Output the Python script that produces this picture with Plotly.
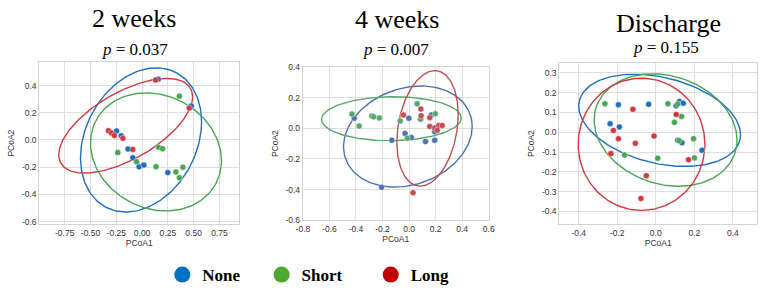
import numpy as np
import plotly.graph_objects as go

W, H = 767, 293

groups = ["None", "Short", "Long"]
legend_colors = ["#0070c0", "#4ea72e", "#c00000"]
panel_colors = [
    ["#1f6fbf", "#4aa552", "#d03a3f"],
    ["#4c72b0", "#55a868", "#c44e52"],
    ["#1f6fbf", "#4aa552", "#d03a3f"],
]
titles = ["2 weeks", "4 weeks", "Discharge"]
p_values = ["0.037", "0.007", "0.155"]

# ---- 2 weeks ----
w2_none_x = [0.157, 0.478, -0.247, -0.202, -0.136, -0.09, -0.029, 0.017, 0.25]
w2_none_y = [0.447, 0.25, 0.066, 0.03, -0.067, -0.131, -0.198, -0.185, -0.24]
w2_short_x = [0.362, -0.235, -0.053, 0.16, 0.199, 0.136, 0.328, 0.396, 0.362]
w2_short_y = [0.322, -0.093, -0.16, -0.054, -0.064, -0.197, -0.236, -0.2, -0.278]
w2_long_x = [0.131, 0.458, -0.326, -0.297, -0.268, -0.186, -0.09]
w2_long_y = [0.44, 0.234, 0.068, 0.051, 0.033, 0.012, -0.07]

# ---- 4 weeks ----
w4_none_x = [-0.413, -0.130, -0.002, 0.168, 0.193, -0.030, 0.017, 0.124, 0.193, -0.207]
w4_none_y = [0.065, -0.078, 0.065, 0.086, -0.023, -0.034, -0.061, -0.086, -0.078, -0.384]
w4_short_x = [-0.43, -0.376, -0.281, -0.267, -0.224, -0.067, 0.061, 0.087, 0.198, -0.013]
w4_short_y = [0.092, 0.014, 0.079, 0.075, 0.067, 0.048, 0.159, 0.058, 0.094, -0.065]
w4_long_x = [-0.042, 0.089, 0.091, 0.156, 0.156, 0.193, 0.224, 0.25, 0.213, 0.030]
w4_long_y = [0.086, 0.125, 0.081, 0.069, 0.012, 0.002, 0.018, 0.018, -0.013, -0.42]

# ---- Discharge ----
dc_none_x = [-0.194, -0.037, 0.106, 0.123, 0.143, -0.237, -0.189, 0.114, 0.136, 0.240]
dc_none_y = [0.139, 0.141, 0.134, 0.155, 0.147, 0.043, 0.027, -0.04, -0.053, -0.091]
dc_short_x = [-0.264, 0.063, 0.114, 0.134, 0.097, 0.196, 0.121, -0.162, 0.010, 0.201]
dc_short_y = [0.144, 0.144, 0.142, 0.08, 0.05, -0.033, -0.043, -0.115, -0.131, -0.130]
dc_long_x = [-0.119, 0.106, -0.22, -0.194, -0.106, -0.009, -0.233, 0.170, -0.049, -0.077]
dc_long_y = [0.116, 0.09, 0.009, -0.033, -0.056, -0.019, -0.108, -0.139, -0.22, -0.335]

# Ellipses: centre x, centre y, half-width, half-height, tilt (correlation)
w2_ell = [(-0.01, 0.0, 0.587, 0.530, 0.25), (0.135, -0.088, 0.635, 0.434, -0.15), (-0.159, 0.104, 0.649, 0.348, 0.614)]
w4_ell = [(-0.009, -0.054, 0.485, 0.329, 0.2), (-0.133, 0.062, 0.526, 0.143, 0.03), (0.139, -0.001, 0.231, 0.376, 0.24)]
dc_ell = [(0.020, 0.060, 0.420, 0.233, -0.31), (0.051, 0.011, 0.371, 0.284, -0.18), (-0.074, -0.061, 0.329, 0.334, 0.0)]

# ticks
w2_xticks = [-0.75, -0.5, -0.25, 0.0, 0.25, 0.5, 0.75]
w2_xlabels = ["-0.75", "-0.50", "-0.25", "0.00", "0.25", "0.50", "0.75"]
w2_yticks = [-0.6, -0.4, -0.2, 0.0, 0.2, 0.4]
w2_ylabels = ["-0.6", "-0.4", "-0.2", "0.0", "0.2", "0.4"]
w4_xticks = [-0.8, -0.6, -0.4, -0.2, 0.0, 0.2, 0.4, 0.6]
w4_xlabels = ["-0.8", "-0.6", "-0.4", "-0.2", "0.0", "0.2", "0.4", "0.6"]
w4_yticks = [-0.6, -0.4, -0.2, 0.0, 0.2, 0.4]
w4_ylabels = ["-0.6", "-0.4", "-0.2", "0.0", "0.2", "0.4"]
dc_xticks = [-0.4, -0.2, 0.0, 0.2, 0.4]
dc_xlabels = ["-0.4", "-0.2", "0.0", "0.2", "0.4"]
dc_yticks = [-0.4, -0.3, -0.2, -0.1, 0.0, 0.1, 0.2, 0.3]
dc_ylabels = ["-0.4", "-0.3", "-0.2", "-0.1", "0.0", "0.1", "0.2", "0.3"]

panels = [
    dict(pts=[(w2_none_x, w2_none_y), (w2_short_x, w2_short_y), (w2_long_x, w2_long_y)], ell=w2_ell,
         xr=[-0.995, 0.94], yr=[-0.62, 0.573], xt=(w2_xticks, w2_xlabels), yt=(w2_yticks, w2_ylabels),
         px=(33, 236), py=(59, 227)),
    dict(pts=[(w4_none_x, w4_none_y), (w4_short_x, w4_short_y), (w4_long_x, w4_long_y)], ell=w4_ell,
         xr=[-0.8, 0.6], yr=[-0.6, 0.4], xt=(w4_xticks, w4_xlabels), yt=(w4_yticks, w4_ylabels),
         px=(301, 490), py=(64, 223)),
    dict(pts=[(dc_none_x, dc_none_y), (dc_short_x, dc_short_y), (dc_long_x, dc_long_y)], ell=dc_ell,
         xr=[-0.50, 0.526], yr=[-0.465, 0.35], xt=(dc_xticks, dc_xlabels), yt=(dc_yticks, dc_ylabels),
         px=(562, 763), py=(60, 227)),
]

SERIF = "Liberation Serif"
SANS = "Liberation Sans"

fig = go.Figure()
t = np.linspace(0, 2 * np.pi, 200)

for i, pn in enumerate(panels):
    xa = "x" if i == 0 else f"x{i+1}"
    ya = "y" if i == 0 else f"y{i+1}"
    for g in range(3):
        cx, cy, hw, hh, r = pn["ell"][g]
        ex = cx + hw * np.cos(t)
        ey = cy + hh * (r * np.cos(t) + np.sqrt(1 - r * r) * np.sin(t))
        fig.add_trace(go.Scatter(x=ex, y=ey, mode="lines", xaxis=xa, yaxis=ya,
                                 line=dict(color=panel_colors[i][g], width=1.4),
                                 showlegend=False, hoverinfo="skip"))
    for g in range(3):
        xs, ys = pn["pts"][g]
        fig.add_trace(go.Scatter(x=xs, y=ys, mode="markers", xaxis=xa, yaxis=ya,
                                 marker=dict(color=panel_colors[i][g], size=6,
                                             line=dict(color="white", width=0.4)),
                                 showlegend=False, name=groups[g]))

    axis_common = dict(showgrid=True, gridcolor="#dedede", gridwidth=1.2, zeroline=False,
                       showline=True, linecolor="#d4d4d4", linewidth=1.3, mirror=True,
                       ticks="", tickfont=dict(family=SANS, size=8.5, color="#333333"))
    xdom = [pn["px"][0] / W, pn["px"][1] / W]
    ydom = [1 - pn["py"][1] / H, 1 - pn["py"][0] / H]
    key = "" if i == 0 else str(i + 1)
    fig.update_layout(**{
        f"xaxis{key}": dict(domain=xdom, range=pn["xr"], anchor=ya, tickvals=pn["xt"][0], ticktext=pn["xt"][1],
                            title=dict(text="PCoA1", font=dict(family=SANS, size=8.5, color="#333333"), standoff=3),
                            **axis_common),
        f"yaxis{key}": dict(domain=ydom, range=pn["yr"], anchor=xa, tickvals=pn["yt"][0], ticktext=pn["yt"][1],
                            title=dict(text="PCoA2", font=dict(family=SANS, size=8.5, color="#333333"), standoff=5),
                            **axis_common),
    })

# titles and p-values
title_pos = [(129, 13.5), (396.7, 14.5), (672.7, 19.5)]
p_pos = [(130, 46), (396, 46), (670, 44.5)]
for i in range(3):
    fig.add_annotation(x=title_pos[i][0] / W, y=1 - title_pos[i][1] / H, xref="paper", yref="paper",
                       text=titles[i], showarrow=False, xanchor="center", yanchor="middle",
                       font=dict(family=SERIF, size=26, color="black"))
    fig.add_annotation(x=p_pos[i][0] / W, y=1 - p_pos[i][1] / H, xref="paper", yref="paper",
                       text=f"<i>p</i> = {p_values[i]}", showarrow=False, xanchor="center", yanchor="middle",
                       font=dict(family=SERIF, size=17, color="black"))

# legend entries (one legend each, to match spacing)
leg_keys = ["legend", "legend2", "legend3"]
leg_x = [158, 259, 370]
for g in range(3):
    fig.add_trace(go.Scatter(x=[None], y=[None], mode="markers", name=f"<b>{groups[g]}</b>",
                             marker=dict(color=legend_colors[g], size=18),
                             showlegend=True, legend=leg_keys[g]))
legend_font = dict(family=SERIF, size=17, color="black")
for g in range(3):
    fig.update_layout(**{leg_keys[g]: dict(x=leg_x[g] / W, y=1 - 280 / H, xanchor="left", yanchor="middle",
                                           orientation="h", font=legend_font, bgcolor="rgba(0,0,0,0)",
                                           itemsizing="trace")})

fig.update_layout(width=W, height=H, margin=dict(l=0, r=0, t=0, b=0),
                  paper_bgcolor="white", plot_bgcolor="white")
fig.write_html("out.html")
